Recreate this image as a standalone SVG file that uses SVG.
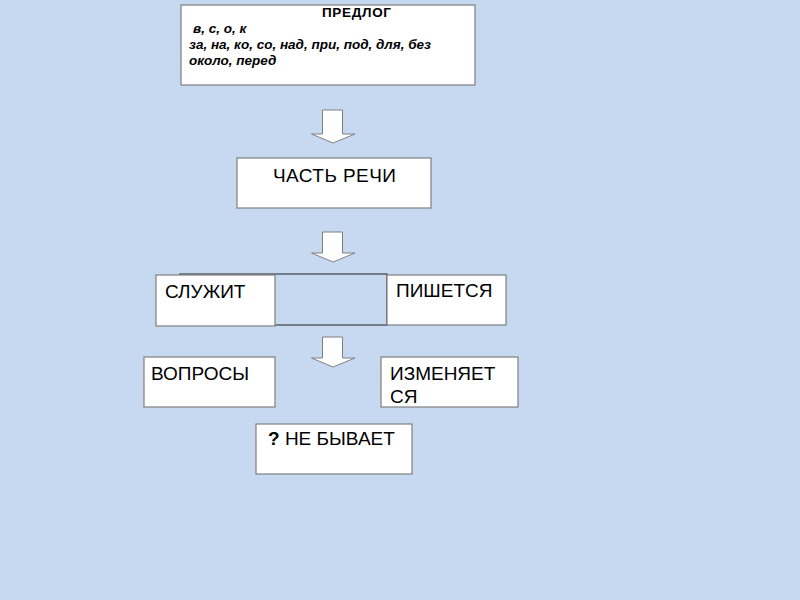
<svg xmlns="http://www.w3.org/2000/svg" width="800" height="600" viewBox="0 0 800 600">
<defs>
<style>
.box{fill:#ffffff;stroke:#7f7f7f;stroke-width:1.2}
.t{font-family:"Liberation Sans",Arial,sans-serif;font-size:19px;fill:#000}
.s{font-family:"Liberation Sans",Arial,sans-serif;font-size:13.5px;font-weight:bold;fill:#000}
.i{font-style:italic}
.arr{fill:#ffffff;stroke:#7f7f7f;stroke-width:1}
</style>
</defs>
<rect width="800" height="600" fill="#c6d9f0"/>
<g id="connectors">
<polygon class="arr" points="322.5,110 342.5,110 342.5,134 355,134 333,143 311.5,134 322.5,134"/>
<polygon class="arr" points="322.5,232 342.5,232 342.5,253 355,253 333,262 311.5,253 322.5,253"/>
<polygon class="arr" points="322.5,337 342.5,337 342.5,358 355,358 333,367 311.5,358 322.5,358"/>
</g>
<g id="predlog">
<rect class="box" x="181" y="5" width="294" height="80"/>
<text class="s" x="322" y="17" textLength="69">ПРЕДЛОГ</text>
<text class="s i" x="193" y="33">в, с, о, к</text>
<text class="s i" x="189" y="49">за, на, ко, со, над, при, под, для, без</text>
<text class="s i" x="189" y="65">около, перед</text>
</g>
<g id="chast">
<rect class="box" x="237" y="158" width="194" height="50"/>
<text class="t" x="273" y="182" textLength="123">ЧАСТЬ РЕЧИ</text>
</g>
<g id="middle">
<rect x="180" y="274" width="207" height="51" fill="#c6d9f0" stroke="#404040" stroke-width="1.2"/>
</g>
<g id="sluzhit">
<rect class="box" x="156" y="275" width="119" height="51"/>
<text class="t" x="165" y="298">СЛУЖИТ</text>
</g>
<g id="pishetsya">
<rect class="box" x="387" y="275" width="119" height="50"/>
<text class="t" x="396" y="297">ПИШЕТСЯ</text>
</g>
<g id="voprosy">
<rect class="box" x="144" y="357" width="131" height="50"/>
<text class="t" x="151" y="380">ВОПРОСЫ</text>
</g>
<g id="izmenyaetsya">
<rect class="box" x="381" y="357" width="137" height="50"/>
<text class="t" x="390" y="380">ИЗМЕНЯЕТ</text>
<text class="t" x="390" y="403">СЯ</text>
</g>
<g id="nebyvaet">
<rect class="box" x="256" y="424" width="156" height="50"/>
<text class="t" x="268" y="445"><tspan font-weight="bold">?</tspan> НЕ БЫВАЕТ</text>
</g>
</svg>
